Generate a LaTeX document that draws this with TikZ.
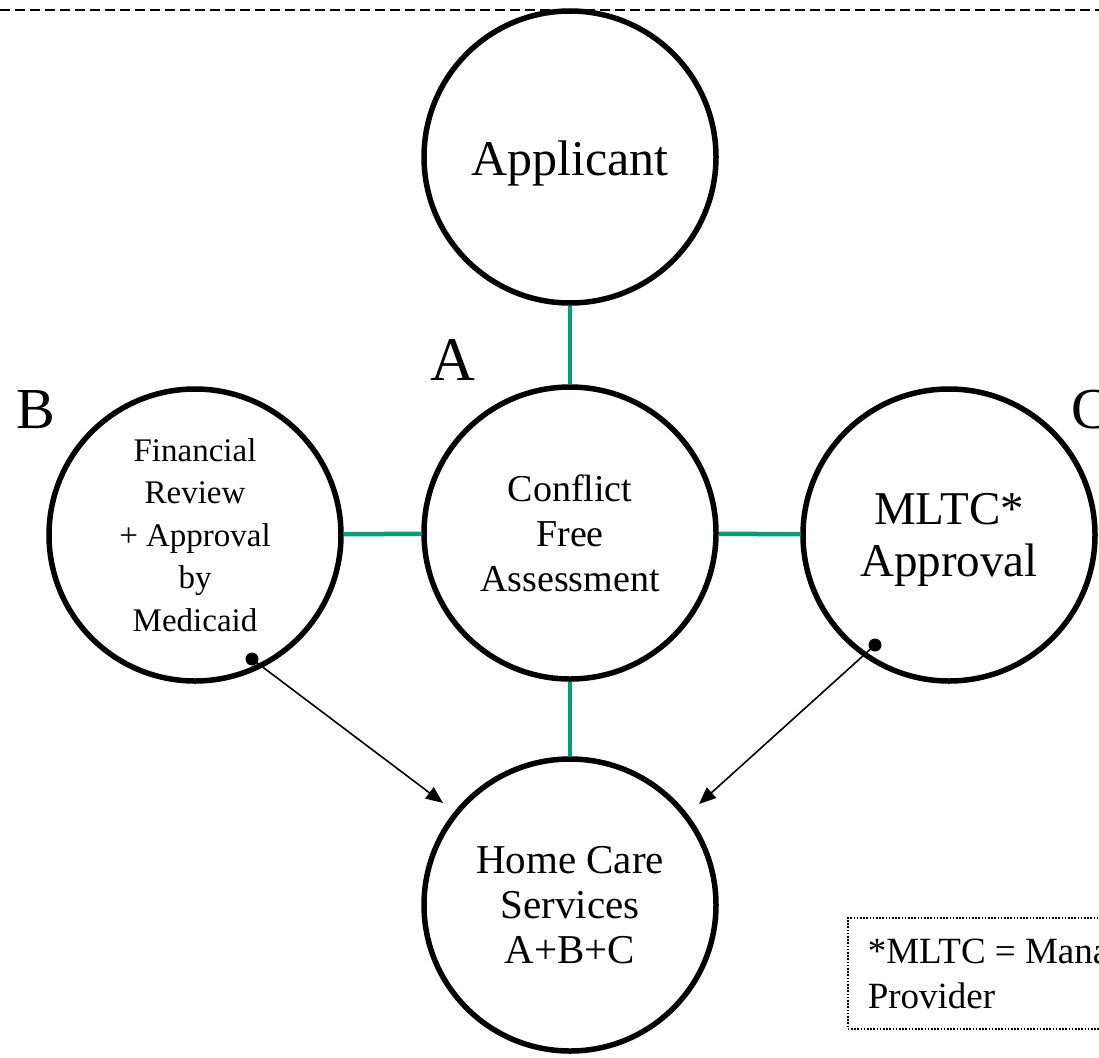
\documentclass[tikz,border=0pt]{standalone}
\usepackage{fontspec}
\setmainfont{Liberation Serif}
\usetikzlibrary{arrows.meta}
\definecolor{linkgreen}{RGB}{0,160,122}
\begin{document}
\begin{tikzpicture}[x=1pt,y=-1pt,
  stage/.style={circle,draw,line width=5.5pt,minimum size=292pt,inner sep=0pt,align=center},
  link/.style={draw=linkgreen,line width=4.5pt},
  flow/.style={line width=1.6pt,-{Triangle[length=17pt,width=14pt]}},
  pin/.style={fill=black,circle,inner sep=0pt,minimum size=13pt},
  tag/.style={inner sep=0pt,anchor=base},
  note/.style={draw,line width=1.6pt,dash pattern=on 1.6pt off 1.6pt,align=left,
    inner xsep=20pt,inner ysep=20pt,anchor=north west}]
\useasboundingbox (0,0) rectangle (1099,1057);
\clip (0,0) rectangle (1099,1057);

% top separator
\draw[line width=2.2pt,dash pattern=on 10pt off 5pt] (0,10) -- (1099,10);

% stages
\node[stage,font=\fontsize{50}{60}\selectfont] (app) at (570,157) {\rule{0pt}{48pt}Applicant};
\node[stage,font=\fontsize{38}{45}\selectfont] (cfa) at (570,533) {Conflict\\Free\\Assessment};
\node[stage,font=\fontsize{33}{42.5}\selectfont] (fin) at (195,535) {Financial\\Review\\+ Approval\\by\\Medicaid};
\node[stage,font=\fontsize{47}{52}\selectfont] (mltc) at (949,535) {\rule{0pt}{41pt}MLTC*\\Approval};
\node[stage,font=\fontsize{41}{45}\selectfont] (home) at (570,905) {Home Care\\Services\\A+B+C};

% letters
\node[tag,font=\fontsize{62}{62}\selectfont] (lA) at (453,380) {A};
\node[tag,font=\fontsize{58}{58}\selectfont] (lB) at (36,428) {B};
\node[tag,font=\fontsize{58}{58}\selectfont,anchor=base west] (lC) at (1071,428) {C};

% green links
\draw[link] (app) -- (cfa);
\draw[link] (cfa) -- (home);
\draw[link] (fin) -- (cfa);
\draw[link] (cfa) -- (mltc);

% approval flows into services
\node[pin] (finPin) at (252,659) {};
\node[pin] (mltcPin) at (875,645) {};
\coordinate (finTip) at (443,803);
\coordinate (mltcTip) at (699,804);
\draw[flow] (finPin.center) -- (finTip);
\draw[flow] (mltcPin.center) -- (mltcTip);

% footnote
\node[note,font=\fontsize{37}{45}\selectfont] (fn) at (847,917) {*MLTC = Managed Long Term Care\\Provider};
\end{tikzpicture}
\end{document}
